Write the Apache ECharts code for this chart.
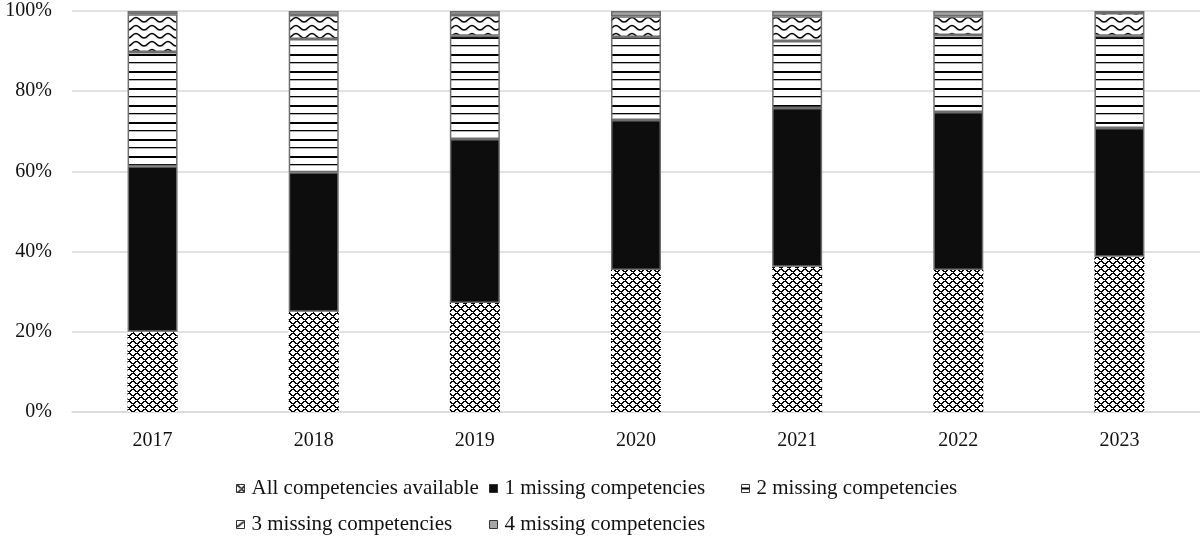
<!DOCTYPE html>
<html>
<head>
<meta charset="utf-8">
<script src="https://cdn.jsdelivr.net/npm/echarts@6/dist/echarts.min.js"></script>
<style>
  html, body { margin: 0; padding: 0; background: #fff; }
  #chart { width: 1200px; height: 541px; }
</style>
</head>
<body>
<div id="chart"></div>
<script>
// Share of firms by number of missing competencies, per year (percent)
const years = ['2017', '2018', '2019', '2020', '2021', '2022', '2023'];
const seriesNames = [
  'All competencies available',
  '1 missing competencies',
  '2 missing competencies',
  '3 missing competencies',
  '4 missing competencies'
];
const allAvailable = [20.0, 25.0, 27.2, 35.4, 36.2, 35.4, 38.7];
const missing1     = [41.3, 34.8, 40.9, 37.4, 39.6, 39.4, 32.1];
const missing2     = [28.5, 33.2, 25.7, 20.7, 16.7, 19.2, 23.0];
const missing3     = [9.4, 6.0, 5.2, 5.2, 6.2, 4.7, 5.7];
const missing4     = [0.8, 1.0, 1.0, 1.3, 1.3, 1.3, 0.5];
const yTicks = [0, 20, 40, 60, 80, 100];

// Hatch fills, drawn on small tiles and repeated
function tile(w, h, draw) {
  const c = document.createElement('canvas');
  c.width = w; c.height = h;
  const ctx = c.getContext('2d');
  ctx.fillStyle = '#fff';
  ctx.fillRect(0, 0, w, h);
  draw(ctx);
  return { image: c, repeat: 'repeat' };
}
const dottedGrid = tile(8, 8, ctx => {
  ctx.fillStyle = '#000';
  for (let y = 0; y < 8; y++) {
    for (let x = 0; x < 8; x++) {
      const a = (x + y) % 8, b = ((x - y) % 8 + 8) % 8;
      if (a === 0 || a === 1 || b === 0 || b === 1) {
        if (!((x % 4 === 0) && (y % 4 === 0))) ctx.fillRect(x, y, 1, 1);
      }
    }
  }
});
const hLines = tile(8, 17, ctx => {
  ctx.fillStyle = '#000';
  ctx.fillRect(0, 3, 8, 2);
  ctx.fillRect(0, 11, 8, 1.3);
});
const waves = tile(16, 8, ctx => {
  ctx.strokeStyle = '#000';
  ctx.lineWidth = 1.6;
  ctx.beginPath();
  ctx.moveTo(0, 6);
  ctx.bezierCurveTo(4, 6, 4, 1.5, 8, 1.5);
  ctx.bezierCurveTo(12, 1.5, 12, 6, 16, 6);
  ctx.stroke();
});

const fills = [dottedGrid, '#0d0d0d', hLines, waves, '#a6a6a6'];
const values = [allAvailable, missing1, missing2, missing3, missing4];
const font = '"Liberation Serif", "Times New Roman", serif';
const axisFontSize = 20;
const legendFontSize = 21;

const series = seriesNames.map((name, i) => ({
  name: name,
  type: 'bar',
  stack: 'total',
  barWidth: 50,
  data: values[i],
  itemStyle: {
    color: fills[i],
    borderColor: i === 0 ? 'transparent' : '#6e6e6e',
    borderWidth: i === 0 ? 0 : 1.5
  },
  emphasis: { disabled: true }
}));

// Legend laid out as two rows with equal-width columns
const legendPos = [
  { left: 231, top: 473 },
  { left: 484, top: 473 },
  { left: 736, top: 473 },
  { left: 231, top: 509 },
  { left: 484, top: 509 }
];
const legends = seriesNames.map((name, i) => ({
  data: [name],
  left: legendPos[i].left,
  top: legendPos[i].top,
  itemWidth: 8,
  itemHeight: 8,
  icon: 'rect',
  itemStyle: { borderColor: '#333', borderWidth: 1 },
  selectedMode: false,
  textStyle: { fontFamily: font, fontSize: legendFontSize, color: '#111', padding: [0, 0, 0, 2] }
}));

const chart = echarts.init(document.getElementById('chart'), null, { renderer: 'canvas' });
chart.setOption({
  animation: false,
  backgroundColor: '#fff',
  grid: { left: 72, top: 11, width: 1131, height: 401, containLabel: false },
  legend: legends,
  xAxis: {
    type: 'category',
    data: years,
    axisTick: { show: false },
    axisLine: { show: true, lineStyle: { color: '#d9d9d9', width: 1.5 } },
    axisLabel: { fontFamily: font, fontSize: axisFontSize, color: '#111', margin: 19 }
  },
  yAxis: {
    type: 'value',
    min: yTicks[0],
    max: yTicks[yTicks.length - 1],
    interval: 20,
    axisLine: { show: false },
    axisTick: { show: false },
    splitLine: { lineStyle: { color: '#d9d9d9', width: 1.5 } },
    axisLabel: { fontFamily: font, fontSize: axisFontSize, color: '#111', margin: 20, formatter: v => v + '%' }
  },
  series: series
});
</script>
</body>
</html>
